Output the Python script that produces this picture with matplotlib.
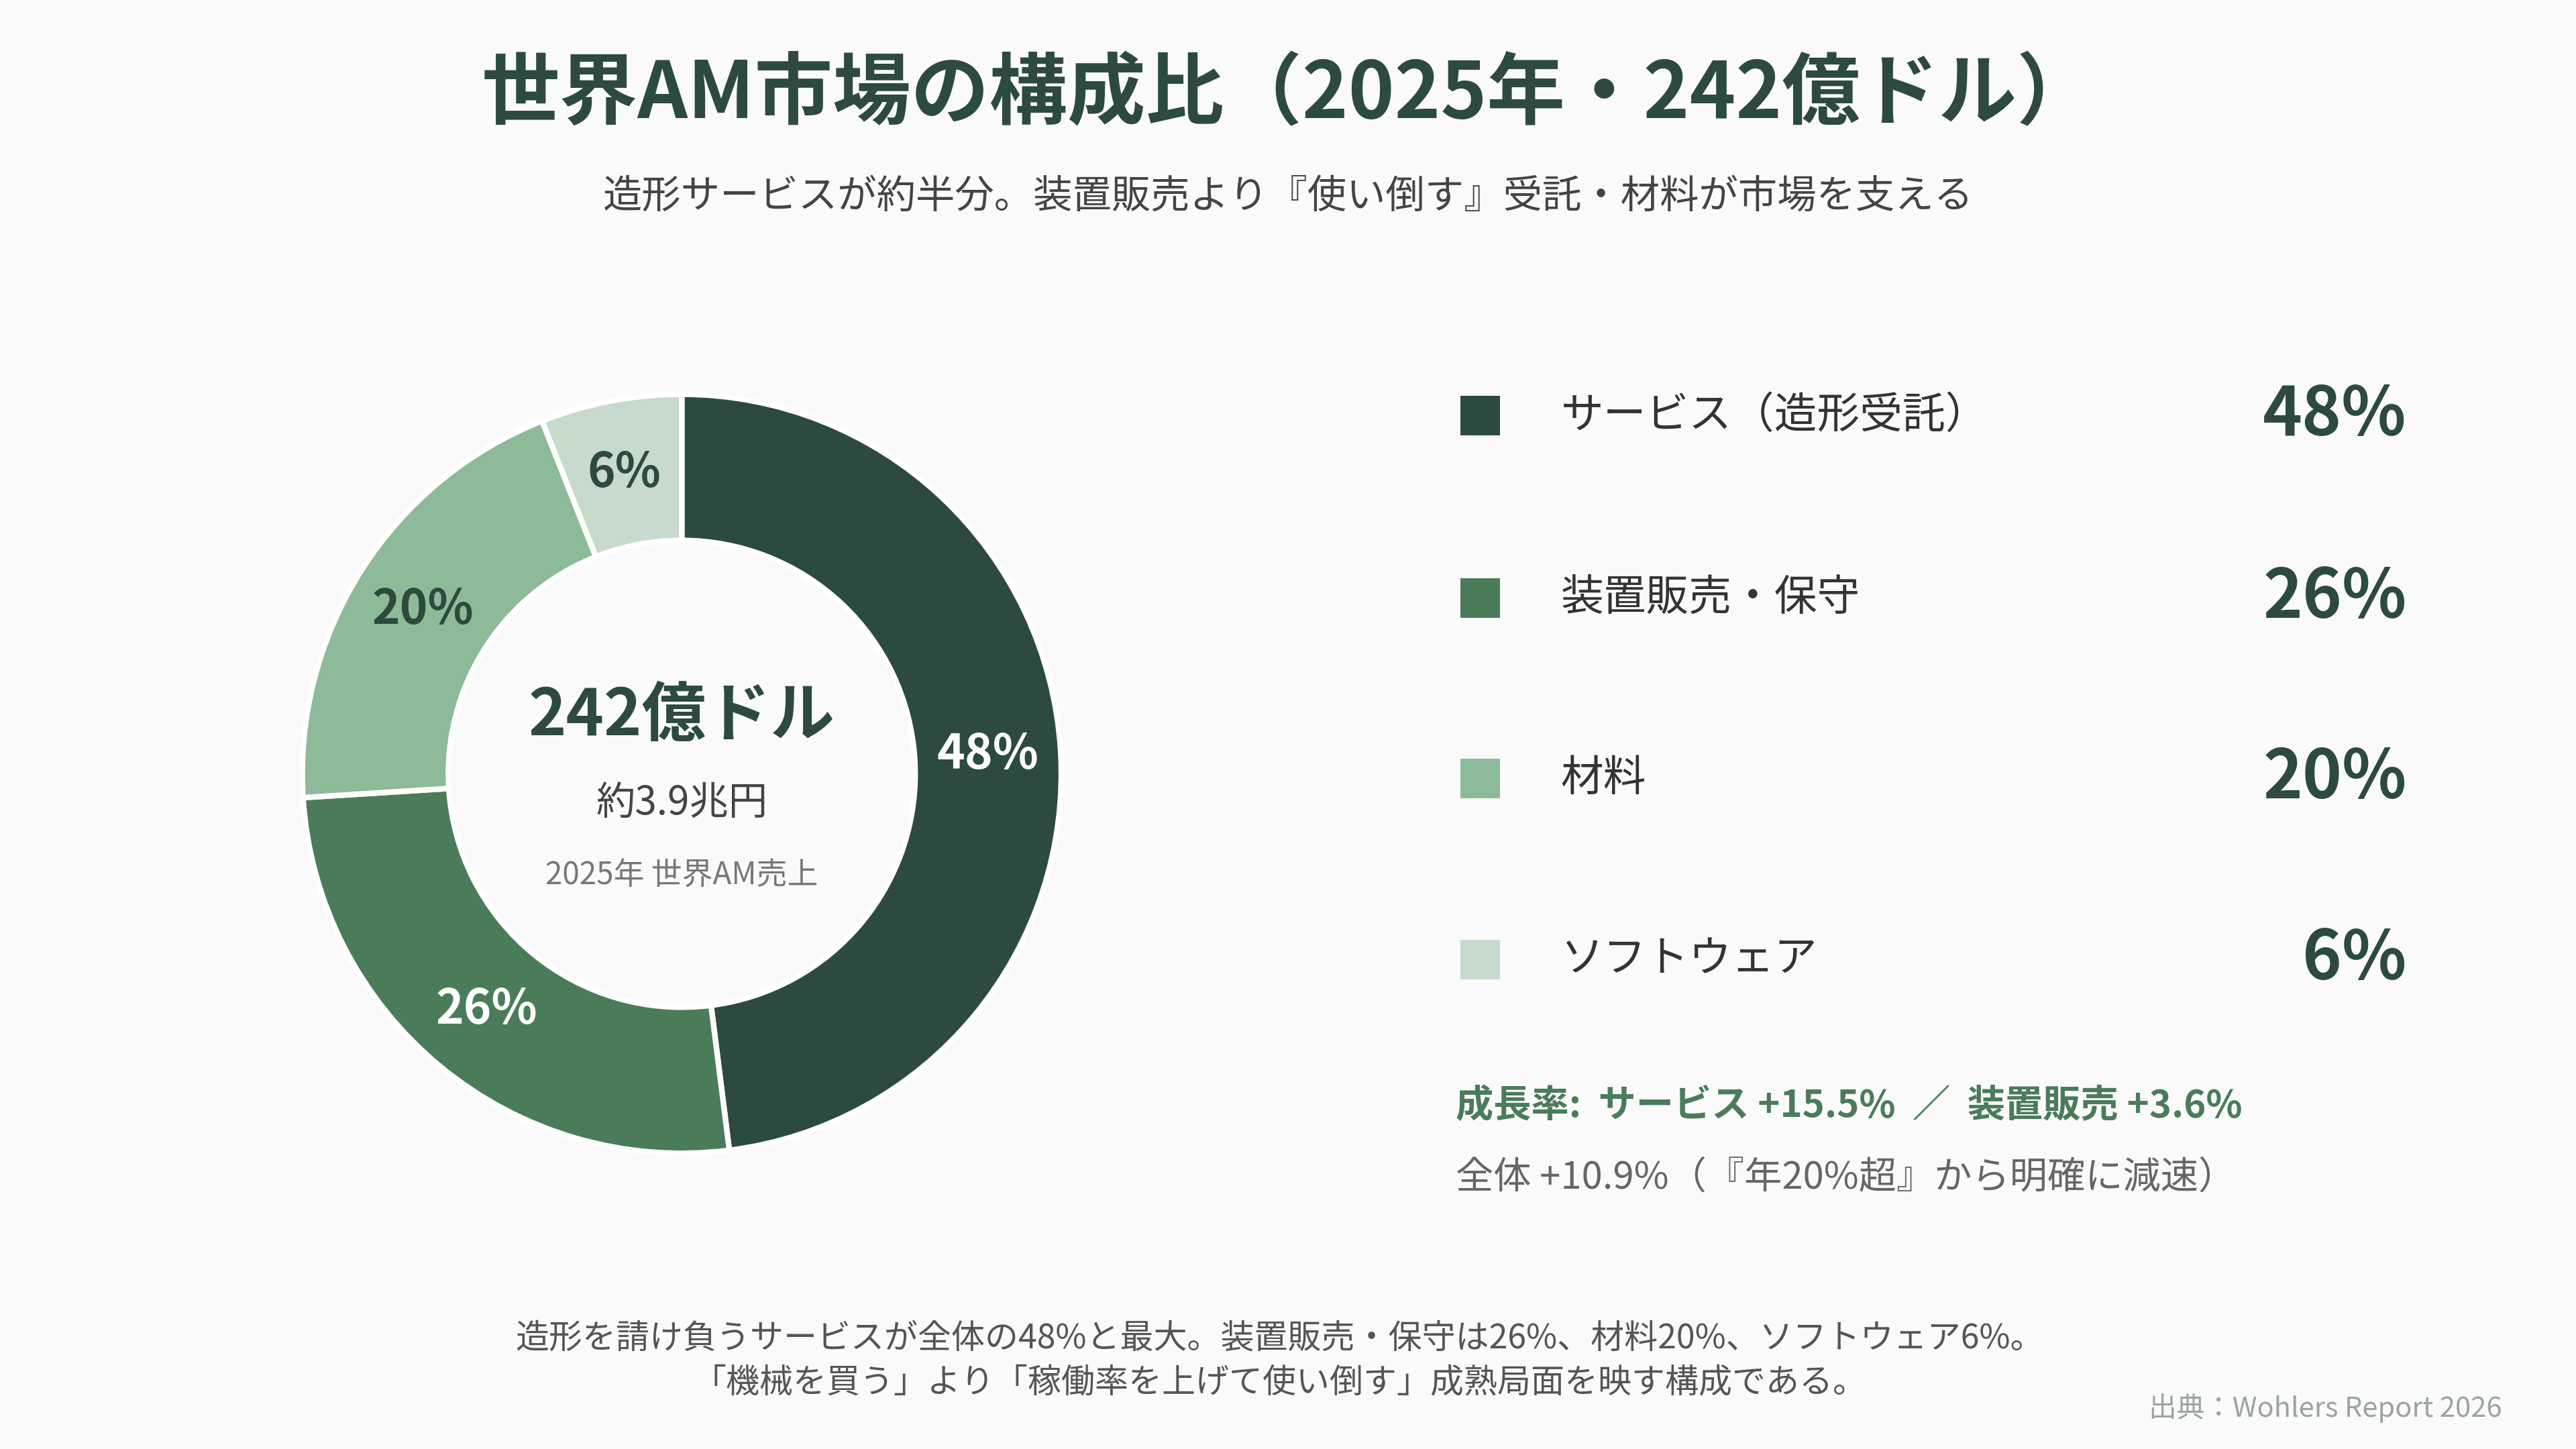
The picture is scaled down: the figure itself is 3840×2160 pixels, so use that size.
import matplotlib
matplotlib.use("Agg")
import matplotlib.pyplot as plt
from matplotlib.patches import Rectangle

plt.rcParams['font.family'] = ['Noto Sans CJK JP', 'DejaVu Sans']

# data
categories = ["サービス（造形受託）", "装置販売・保守", "材料", "ソフトウェア"]
shares = [48, 26, 20, 6]
colors = ["#2D4A3E", "#4A7C59", "#8DBA98", "#C8DACC"]
label_colors = ["white", "white", "#2D4A3E", "#2D4A3E"]

title = "世界AM市場の構成比（2025年・242億ドル）"
subtitle = "造形サービスが約半分。装置販売より『使い倒す』受託・材料が市場を支える"
center_main = "242億ドル"
center_sub = "約3.9兆円"
center_note = "2025年 世界AM売上"
growth_line = "成長率:  サービス +15.5%  ／  装置販売 +3.6%"
total_line = "全体 +10.9%（『年20%超』から明確に減速）"
footer_lines = ["造形を請け負うサービスが全体の48%と最大。装置販売・保守は26%、材料20%、ソフトウェア6%。",
                "「機械を買う」より「稼働率を上げて使い倒す」成熟局面を映す構成である。"]
source = "出典：Wohlers Report 2026"

BG = "#FAFAFA"
DARK = "#2D4A3E"
W, H = 1568.0, 882.0  # layout measured on a 1568x882 grid

def fx(x):
    return x / W

def fy(y):
    return 1 - y / H

fig = plt.figure(figsize=(12.8, 7.2), dpi=300, facecolor=BG)

# donut
cx, cy, r = 415, 471, 231
ax = fig.add_axes([fx(cx - r), fy(cy + r), 2 * r / W, 2 * r / H])
ax.set_facecolor(BG)
ring = 0.385
wedges, texts, autotexts = ax.pie(shares, colors=colors, startangle=90, counterclock=False,
                                  radius=1.0, autopct=lambda p: "%.0f%%" % p,
                                  pctdistance=1 - ring / 2,
                                  wedgeprops=dict(width=ring, edgecolor="white", linewidth=2.0),
                                  textprops=dict(fontsize=17, fontweight="bold"))
for t, c in zip(autotexts, label_colors):
    t.set_color(c)
ax.set_xlim(-1.0, 1.0)
ax.set_ylim(-1.0, 1.0)
ax.set_aspect("equal")
ax.axis("off")

fig.text(fx(cx), fy(436), center_main, ha="center", va="center", fontsize=23, fontweight="bold", color=DARK)
fig.text(fx(cx), fy(489), center_sub, ha="center", va="center", fontsize=14, color="#444444")
fig.text(fx(cx), fy(533), center_note, ha="center", va="center", fontsize=11, color="#777777")

# titles
fig.text(0.5, fy(58), title, ha="center", va="center", fontsize=28, fontweight="bold", color=DARK)
fig.text(0.5, fy(120), subtitle, ha="center", va="center", fontsize=14, color="#444444")

# legend
row_y = [253, 364, 474, 584]
sq = 24
for i, (name, val) in enumerate(zip(categories, shares)):
    y = row_y[i]
    fig.add_artist(Rectangle((fx(889), fy(y + sq / 2)), sq / W, sq / H, transform=fig.transFigure,
                             facecolor=colors[i], edgecolor="none"))
    fig.text(fx(950), fy(y), name, ha="left", va="center", fontsize=15.3, color="#333333")
    fig.text(fx(1465), fy(y), "%d%%" % val, ha="right", va="center", fontsize=24,
             fontweight="bold", color=DARK)

fig.text(fx(886), fy(673), growth_line, ha="left", va="center", fontsize=13.5,
         fontweight="bold", color="#4A7C59")
fig.text(fx(886), fy(717), total_line, ha="left", va="center", fontsize=13.5, color="#666666")

# footer
fig.text(fx(779), fy(815), footer_lines[0], ha="center", va="center", fontsize=12, color="#555555")
fig.text(fx(779), fy(842), footer_lines[1], ha="center", va="center", fontsize=12, color="#555555")
fig.text(fx(1523), fy(857), source, ha="right", va="center", fontsize=10, color="#9AA59E")

fig.savefig("out.png", dpi=300, facecolor=BG)
